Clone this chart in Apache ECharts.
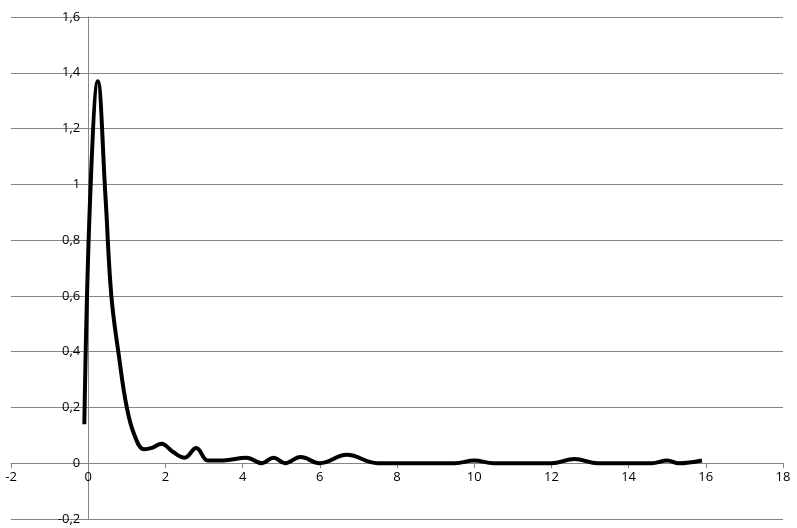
<!DOCTYPE html>
<html><head><meta charset="utf-8">
<script src="https://cdn.jsdelivr.net/npm/echarts@6/dist/echarts.min.js"></script>
<style>html,body{margin:0;background:#fff}#chart{width:797px;height:528px}</style>
</head><body><div id="chart"></div>
<script>
// curve samples
var xs = [-0.1, 0.05, 0.25, 0.45, 0.6, 0.8, 1.0, 1.2, 1.45, 1.65, 1.9, 2.2, 2.5, 2.8, 3.1, 3.5, 4.1, 4.5, 4.8, 5.1, 5.5, 6.0, 6.7, 7.5, 8.5, 9.5, 10.0, 10.5, 11.5, 12.0, 12.6, 13.2, 14.0, 14.6, 15.0, 15.3, 15.9];
var ys = [0.14, 0.95, 1.37, 0.95, 0.6, 0.38, 0.2, 0.1, 0.05, 0.055, 0.07, 0.04, 0.02, 0.055, 0.01, 0.01, 0.02, 0.0, 0.02, 0.0, 0.022, 0.0, 0.03, 0.0, 0.0, 0.0, 0.01, 0.0, 0.0, 0.0, 0.015, 0.0, 0.0, 0.0, 0.01, 0.0, 0.01];

var pts = xs.map(function (x, i) { return [x, ys[i]]; });
var comma = function (v) { return String(Math.round(v * 10) / 10).replace('.', ','); };

// grid: 772 px wide over 20 units, 502 px high over 1.8 units
var gridW = 772, gridH = 502;
var chart = echarts.init(document.getElementById('chart'));
chart.setOption({
	animation: false,
	grid: { left: 11, right: 14, top: 17, bottom: 9, containLabel: false, outerBoundsMode: 'none' },
	xAxis: {
		type: 'value', min: -2, max: 18, interval: 2,
		offset: -gridH * 0.2 / 1.8,
		axisLine: { onZero: false, lineStyle: { color: '#868686' } },
		axisTick: { show: true, lineStyle: { color: '#868686' } },
		splitLine: { show: false },
		axisLabel: { color: '#000', fontSize: 13, fontFamily: 'Open Sans', formatter: comma }
	},
	yAxis: {
		type: 'value', min: -0.2, max: 1.6, interval: 0.2,
		offset: -gridW * 2 / 20,
		axisLine: { show: true, onZero: false, lineStyle: { color: '#868686' } },
		axisTick: { show: true, lineStyle: { color: '#868686' } },
		splitLine: { lineStyle: { color: '#868686' } },
		axisLabel: { color: '#000', fontSize: 13, fontFamily: 'Open Sans', formatter: comma }
	},
	series: [{
		type: 'line', data: pts, smooth: 0.4, showSymbol: false,
		lineStyle: { color: '#000', width: 4 }
	}]
});
</script></body></html>
